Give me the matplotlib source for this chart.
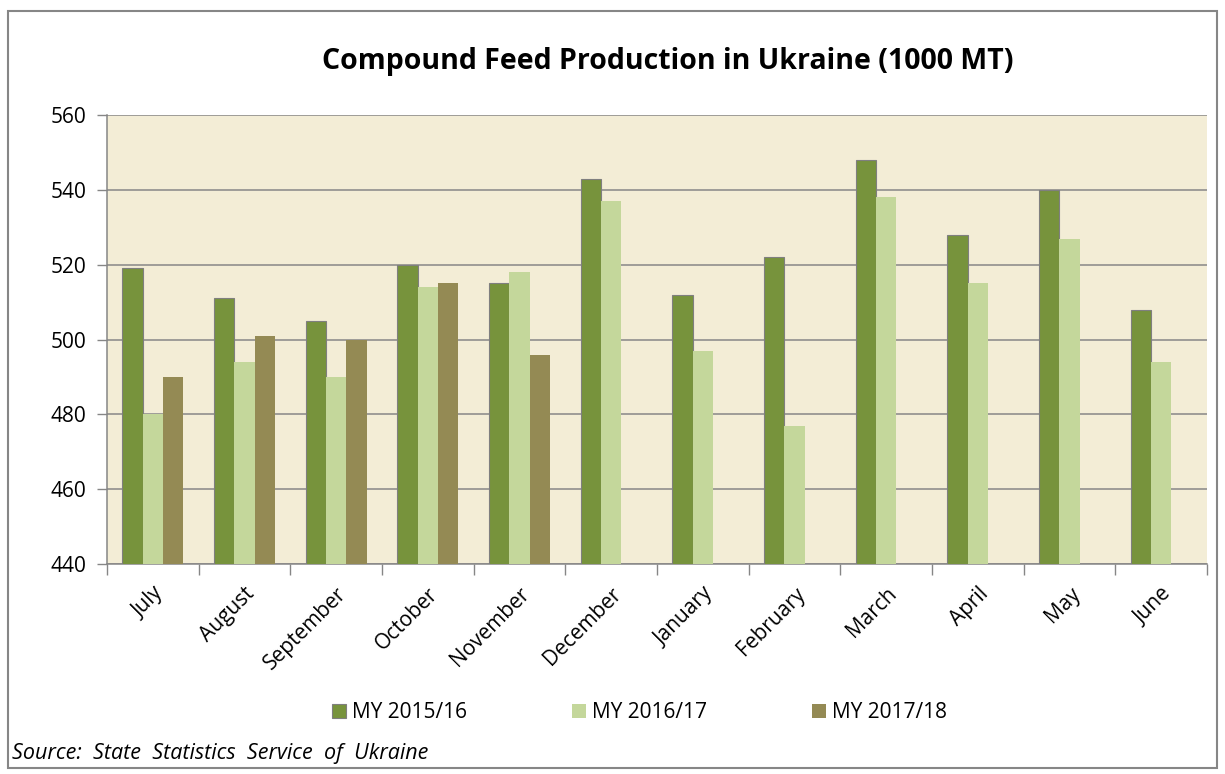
import numpy as np
import matplotlib.pyplot as plt
from matplotlib.patches import Rectangle

plt.rcParams['font.family'] = ['Open Sans', 'DejaVu Sans']

# Data
months = ['July', 'August', 'September', 'October', 'November', 'December',
          'January', 'February', 'March', 'April', 'May', 'June']
my_2015 = [519, 511, 505, 520, 515, 543, 512, 522, 548, 528, 540, 508]
my_2016 = [480, 494, 490, 514, 518, 537, 497, 477, 538, 515, 527, 494]
my_2017 = [490, 501, 500, 515, 496]
series_names = ['MY 2015/16', 'MY 2016/17', 'MY 2017/18']
colors = ['#77933C', '#C4D79B', '#948A54']

fig = plt.figure(figsize=(12.25, 7.74), dpi=100)
ax = fig.add_axes([0.0873, 0.2713, 0.898, 0.580])
ax.set_facecolor('#F3EDD6')

x = np.arange(len(months))
w = 0.222
ax.bar(x - w, my_2015, w, color=colors[0], edgecolor='#7F7F7F',
       linewidth=0.8, label=series_names[0], zorder=3)
ax.bar(x, my_2016, w, color=colors[1], label=series_names[1], zorder=3)
ax.bar(x[:len(my_2017)] + w, my_2017, w, color=colors[2],
       label=series_names[2], zorder=3)

ax.set_ylim(440, 560)
ax.set_yticks(np.arange(440, 561, 20))
ax.set_xlim(-0.5, len(months) - 0.5)
ax.yaxis.grid(True, color='#878787', linewidth=1.1, zorder=1)

ax.set_xticks(x)
ax.set_xticklabels(months, rotation=45, ha='right', rotation_mode='anchor',
                   fontsize=15)
ax.set_xticks(np.arange(-0.5, len(months), 1), minor=True)
ax.tick_params(axis='x', which='major', length=0, pad=14)
ax.tick_params(axis='x', which='minor', length=8, color='#868686', width=1)
ax.tick_params(axis='y', labelsize=15, length=7, color='#868686', width=1,
               pad=8)

for s in ['top', 'right']:
    ax.spines[s].set_visible(False)
for s in ['left', 'bottom']:
    ax.spines[s].set_color('#868686')
    ax.spines[s].set_linewidth(1.1)

fig.text(0.545, 0.920, 'Compound Feed Production in Ukraine (1000 MT)',
         ha='center', va='center', fontsize=20.5, fontweight='bold')

fig.legend(loc='center', bbox_to_anchor=(0.522, 0.079), ncol=3, frameon=False,
           fontsize=15, handlelength=0.7, handleheight=0.7, handletextpad=0.3,
           columnspacing=5.0)

fig.text(0.010, 0.027, 'Source:  State  Statistics  Service  of  Ukraine',
         ha='left', va='center', fontsize=15.5, style='italic')

fig.patches.append(Rectangle((0.0065, 0.008), 0.987, 0.978,
                             transform=fig.transFigure, fill=False,
                             edgecolor='#868686', linewidth=1.5))

fig.savefig('out.png', dpi=100)
